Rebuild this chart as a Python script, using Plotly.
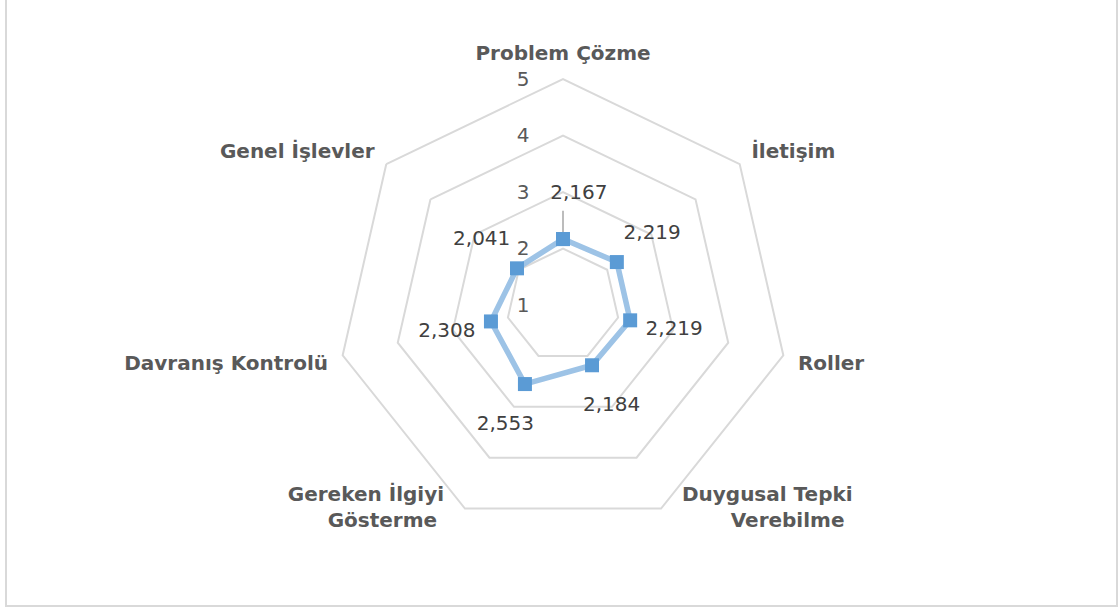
import plotly.graph_objects as go

categories = ["Problem Çözme", "İletişim", "Roller", "Duygusal Tepki<br>Verebilme",
              "Gereken İlgiyi<br>Gösterme", "Davranış Kontrolü", "Genel İşlevler"]
values = [2.167, 2.219, 2.219, 2.184, 2.553, 2.308, 2.041]
value_labels = ["\u00a0\u00a0\u00a0\u00a0\u00a02,167", "2,219", "2,219", "2,184", "2,553", "2,308", "2,041"]
radial_ticks = [1, 2, 3, 4, 5]
R_MAX = 5

LABEL_OFFSET = 0.8  # radial offset (in axis units) of the data labels

cat_bold = ["<b>%s</b>" % c for c in categories]
FONT = "DejaVu Sans, Open Sans, sans-serif"
NB = "\u00a0"

# the two bottom categories get their labels beside the vertex (as in Excel)
side_idx = [3, 4]
side_pos = ["middle right", "middle left"]
# (leading pad, trailing pad) per line, in non-breaking spaces, to mimic Excel's centred lines
side_pads = [[(3, 0), (10, 0)], [(0, 3), (0, 4)]]
side_text = []
for i, pads in zip(side_idx, side_pads):
    lines = categories[i].split("<br>")
    side_text.append("<br>".join("<b>%s%s%s</b>" % (NB * a, ln, NB * b)
                                 for ln, (a, b) in zip(lines, pads)))
tick_text = ["" if i in side_idx else c for i, c in enumerate(cat_bold)]

fig = go.Figure()
# leader line for the first label
fig.add_trace(go.Scatterpolar(
    r=[values[0] + 0.12, values[0] + 0.5],
    theta=[cat_bold[0], cat_bold[0]],
    mode="lines",
    line=dict(color="#A6A6A6", width=1.5),
    hoverinfo="skip", showlegend=False,
))
fig.add_trace(go.Scatterpolar(
    r=values + [values[0]],
    theta=cat_bold + [cat_bold[0]],
    mode="lines+markers",
    line=dict(color="#9DC3E6", width=5.5),
    marker=dict(symbol="square", size=14, color="#5B9BD5"),
    hoverinfo="skip",
    showlegend=False,
))
fig.add_trace(go.Scatterpolar(
    r=[v + LABEL_OFFSET for v in values],
    theta=cat_bold,
    mode="text",
    text=value_labels,
    textposition="middle center",
    textfont=dict(family=FONT, size=20, color="#404040"),
    hoverinfo="skip",
    showlegend=False,
))
fig.add_trace(go.Scatterpolar(
    r=[R_MAX for _ in side_idx],
    theta=[cat_bold[i] for i in side_idx],
    mode="text",
    text=side_text,
    textposition=side_pos,
    textfont=dict(family=FONT, size=20, color="#595959"),
    cliponaxis=False,
    hoverinfo="skip",
    showlegend=False,
))

fig.update_layout(
    width=1120, height=609,
    margin=dict(l=0, r=0, t=0, b=0),
    paper_bgcolor="white",
    plot_bgcolor="white",
    showlegend=False,
    polar=dict(
        domain=dict(x=[337 / 1120, 789 / 1120], y=[78 / 609, 530 / 609]),
        bgcolor="white",
        gridshape="linear",
        radialaxis=dict(
            range=[1, R_MAX],
            tickvals=radial_ticks,
            ticktext=[str(t) for t in radial_ticks],
            angle=90,
            tickangle=90,
            side="counterclockwise",
            showline=False,
            ticks="outside",
            ticklen=26,
            tickcolor="rgba(0,0,0,0)",
            gridcolor="#D9D9D9",
            gridwidth=2,
            tickfont=dict(family=FONT, size=20, color="#595959"),
        ),
        angularaxis=dict(
            direction="clockwise",
            rotation=90,
            tickmode="array",
            tickvals=cat_bold,
            ticktext=tick_text,
            showgrid=False,
            showline=True,
            linecolor="#D9D9D9",
            linewidth=2,
            ticks="outside",
            ticklen=10,
            tickcolor="rgba(0,0,0,0)",
            tickfont=dict(family=FONT, size=20, color="#595959"),
        ),
    ),
    shapes=[dict(type="rect", xref="paper", yref="paper",
                 x0=6 / 1120, x1=1117 / 1120, y0=3 / 609, y1=1.02,
                 line=dict(color="#D9D9D9", width=2))],
)

fig.write_html("out.html", config={"displayModeBar": False},
               post_script="document.body.style.margin='0';")
